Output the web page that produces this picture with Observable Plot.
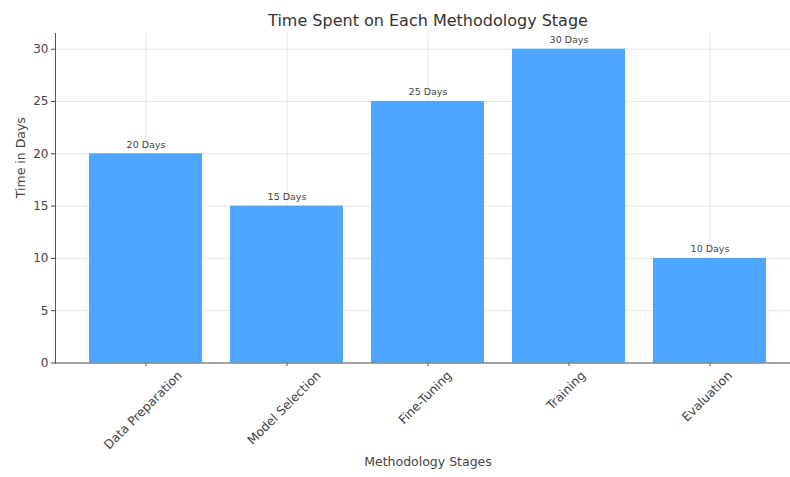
<!DOCTYPE html>
<html><head><meta charset="utf-8">
<script src="https://cdn.jsdelivr.net/npm/d3@7"></script>
<script src="https://cdn.jsdelivr.net/npm/@observablehq/plot@0.6"></script>
<style>body{margin:0;background:#fff;} #chart svg{display:block;}</style>
</head><body><div id="chart"></div>
<script>
const titleText = "Time Spent on Each Methodology Stage";
const xLabel = "Methodology Stages";
const yLabel = "Time in Days";
const stages = ["Data Preparation", "Model Selection", "Fine-Tuning", "Training", "Evaluation"];
const days = [20, 15, 25, 30, 10];
const valueLabels = ["20 Days", "15 Days", "25 Days", "30 Days", "10 Days"];
const yTicks = [0, 5, 10, 15, 20, 25, 30];

const data = stages.map((s, i) => ({stage: s, days: days[i], label: valueLabels[i]}));

const W = 790, H = 477, ML = 55, MT = 33, MB = 114.5;
const txt = "#444";

const plot = Plot.plot({
  width: W, height: H,
  marginLeft: ML, marginRight: 0, marginTop: MT, marginBottom: MB,
  style: {fontFamily: "DejaVu Sans", background: "#fff", overflow: "visible"},
  x: {domain: stages, range: [ML, 800.5], paddingInner: 0.2, paddingOuter: 0.24},
  y: {domain: [0, 31.5]},
  marks: [
    Plot.gridY(yTicks, {stroke: "#e8e8e8", strokeOpacity: 1}),
    Plot.gridX(stages, {stroke: "#e8e8e8", strokeOpacity: 1}),
    Plot.barY(data, {x: "stage", y: "days", fill: "#4da6ff"}),
    Plot.frame({anchor: "left", stroke: "#555"}),
    Plot.frame({anchor: "bottom", stroke: "#555"}),
    Plot.axisY(yTicks, {tickSize: 4, tickPadding: 3, fontSize: 12, color: txt, label: null}),
    Plot.axisX(stages, {tickSize: 3.5, tickFormat: () => "", label: null, color: "#555"}),
    Plot.text(data, {x: "stage", y: "days", text: "label", lineAnchor: "bottom", dy: -6, fontSize: 9.5, fill: txt}),
    Plot.text(stages, {x: d => d, frameAnchor: "bottom", rotate: -45, textAnchor: "middle", fontSize: 12.3, fill: txt, className: "xlab"}),
    Plot.text([titleText], {frameAnchor: "top", dy: -8, lineAnchor: "bottom", dx: 5, fontSize: 16, fill: "#333"}),
    Plot.text([xLabel], {frameAnchor: "bottom", dy: 103, dx: 5, fontSize: 12.5, fill: txt}),
    Plot.text([yLabel], {frameAnchor: "left", dx: -35, rotate: -90, fontSize: 12.5, fill: txt})
  ]
});

document.getElementById("chart").appendChild(plot);
const svgRect = plot.getBoundingClientRect();
plot.querySelectorAll("g.xlab text").forEach(t => {
  const r = t.getBoundingClientRect();
  const top = r.top - svgRect.top;
  const shift = (H - MB + 6) - top;
  t.setAttribute("transform", `translate(0,${shift}) ` + (t.getAttribute("transform") || ""));
});
</script>
</body></html>
